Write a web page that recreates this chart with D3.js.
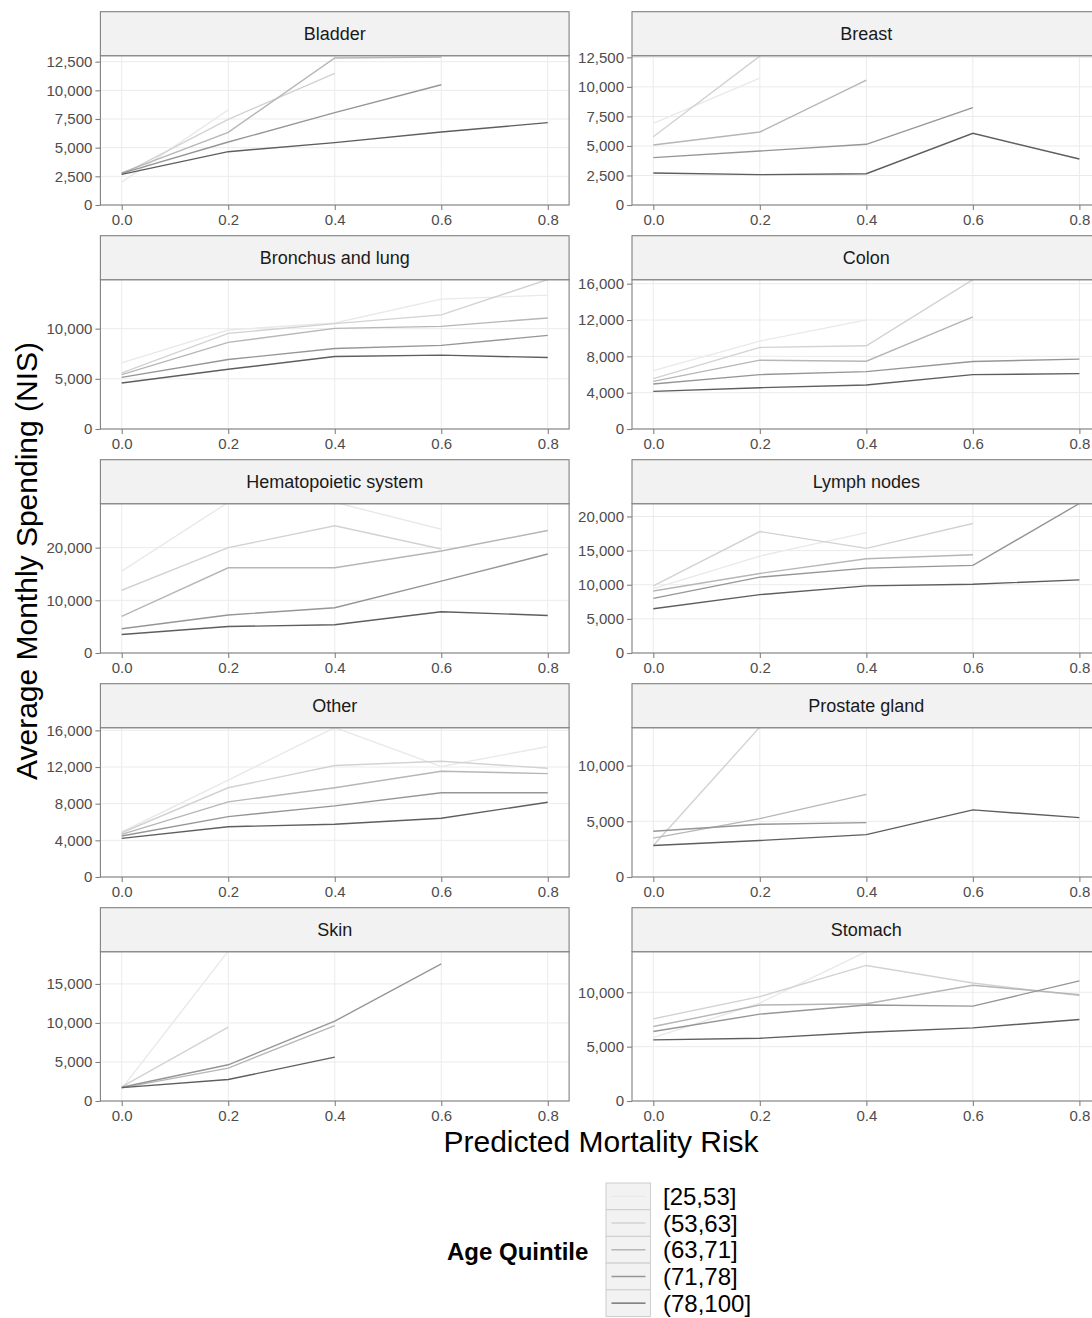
<!DOCTYPE html>
<html>
<head>
<meta charset="utf-8">
<script src="https://cdn.jsdelivr.net/npm/d3@7"></script>
<style>
  body { margin: 0; background: #fff; }
  text { font-family: "Liberation Sans", Arial, sans-serif; }
</style>
</head>
<body>
<script>
// data
var sites = ["Bladder", "Breast", "Bronchus and lung", "Colon", "Hematopoietic system",
    "Lymph nodes", "Other", "Prostate gland", "Skin", "Stomach"];
var quintiles = ["[25,53]", "(53,63]", "(63,71]", "(71,78]", "(78,100]"];
var greys = ["#e9e9e9", "#d2d2d2", "#b6b6b6", "#969696", "#5e5e5e"];
var risk = [0, 0.2, 0.4, 0.6, 0.8];

// one row per quintile, one value per risk level (null = no data)
var bladder = [
    [2000, 8300, null, null, null],
    [2650, 7470, 11480, null, null],
    [2800, 6340, 12820, 12900, null],
    [2760, 5490, 8050, 10490, null],
    [2670, 4650, 5440, 6370, 7180]];
var breast = [
    [6910, 10750, null, null, null],
    [5780, 12600, null, null, null],
    [5080, 6180, 10580, null, null],
    [4010, 4570, 5140, 8240, null],
    [2710, 2570, 2650, 6070, 3890]];
var lung = [
    [6590, 9870, 10570, 12940, 13340],
    [5590, 9530, 10500, 11370, 14900],
    [5420, 8630, 10030, 10230, 11070],
    [5150, 6920, 8030, 8330, 9330],
    [4580, 5950, 7220, 7360, 7120]];
var colon = [
    [6430, 9680, 12010, null, null],
    [5540, 8980, 9160, 16450, null],
    [5250, 7580, 7460, 12340, null],
    [4950, 5990, 6320, 7430, 7690],
    [4140, 4550, 4840, 5990, 6100]];
var hema = [
    [15540, 28600, 28600, 23500, null],
    [11910, 20000, 24140, 19740, null],
    [6940, 16180, 16180, 19360, 23250],
    [4590, 7200, 8600, 13630, 18790],
    [3500, 5030, 5350, 7830, 7130]];
var lymph = [
    [9440, 14200, 17640, null, null],
    [9830, 17790, 15330, 18970, null],
    [9090, 11650, 13810, 14400, null],
    [8010, 11110, 12430, 12830, 21900],
    [6490, 8550, 9830, 10070, 10710]];
var other = [
    [4910, 10580, 16300, 12050, 14240],
    [4830, 9740, 12160, 12630, 11860],
    [4650, 8200, 9740, 11530, 11280],
    [4470, 6590, 7760, 9190, 9190],
    [4210, 5490, 5750, 6410, 8160]];
var prostate = [
    [null, null, null, null, null],
    [2830, 13450, null, null, null],
    [3490, 5240, 7410, null, null],
    [4100, 4730, 4880, null, null],
    [2830, 3280, 3800, 6020, 5330]];
var skin = [
    [1590, 19200, null, null, null],
    [1810, 9460, null, null, null],
    [1680, 4210, 9670, null, null],
    [1760, 4640, 10230, 17580, null],
    [1720, 2750, 5630, null, null]];
var stomach = [
    [5830, 9010, 13750, null, null],
    [7560, 9600, 12470, 10860, 9690],
    [6850, 8830, 8950, 10650, 9780],
    [6390, 7990, 8830, 8730, 11050],
    [5620, 5770, 6330, 6730, 7500]];

var siteValues = [bladder, breast, lung, colon, hema, lymph, other, prostate, skin, stomach];

// upper y limit of each panel and its tick labels
var yMax = [13020, 12640, 14880, 16440, 28340, 21870, 16290, 13400, 19130, 13735];
var yTicks = [
    [0, 2500, 5000, 7500, 10000, 12500],
    [0, 2500, 5000, 7500, 10000, 12500],
    [0, 5000, 10000],
    [0, 4000, 8000, 12000, 16000],
    [0, 10000, 20000],
    [0, 5000, 10000, 15000, 20000],
    [0, 4000, 8000, 12000, 16000],
    [0, 5000, 10000],
    [0, 5000, 10000, 15000],
    [0, 5000, 10000]];

var width = 1092;
var height = 1318;

var colLeft = [100.4, 632];
var panelW = 468.7;
var stripTop = 11.7;
var stripH = 44;
var plotH = 149.3;
var rowStep = 224;
var borderCol = "#808080";

var svg = d3.select("body").append("svg")
    .attr("width", width)
    .attr("height", height);

var xScale = d3.scaleLinear()
    .domain([-0.04, 0.84])
    .range([0, panelW]);

var lineGen = d3.line()
    .defined(function(d){ return d.v != null; })
    .x(function(d){ return xScale(d.x); });

sites.forEach(function(site, i){
    var col = i % 2;
    var row = Math.floor(i / 2);
    var top = stripTop + row * rowStep + stripH;

    var g = svg.append("g")
        .attr("transform", "translate(" + colLeft[col] + "," + top + ")");

    var yScale = d3.scaleLinear()
        .domain([0, yMax[i]])
        .range([plotH, 0]);

    // grid
    g.selectAll(".hgrid")
        .data(yTicks[i])
        .enter().append("line")
        .attr("x1", 0).attr("x2", panelW)
        .attr("y1", function(d){ return yScale(d); })
        .attr("y2", function(d){ return yScale(d); })
        .attr("stroke", "#ebebeb")
        .attr("stroke-width", 1);

    g.selectAll(".vgrid")
        .data(risk)
        .enter().append("line")
        .attr("x1", function(d){ return xScale(d); })
        .attr("x2", function(d){ return xScale(d); })
        .attr("y1", 0).attr("y2", plotH)
        .attr("stroke", "#ebebeb")
        .attr("stroke-width", 1);

    g.append("clipPath")
        .attr("id", "clip" + i)
        .append("rect")
        .attr("width", panelW)
        .attr("height", plotH);

    lineGen.y(function(d){ return yScale(d.v); });

    g.append("g")
        .attr("clip-path", "url(#clip" + i + ")")
        .selectAll("path")
        .data(siteValues[i])
        .enter().append("path")
        .attr("d", function(vals){
            return lineGen(vals.map(function(v, k){ return {x: risk[k], v: v}; }));
        })
        .attr("fill", "none")
        .attr("stroke", function(d, k){ return greys[k]; })
        .attr("stroke-width", 1.4);

    // panel border
    g.append("rect")
        .attr("width", panelW)
        .attr("height", plotH)
        .attr("fill", "none")
        .attr("stroke", borderCol)
        .attr("stroke-width", 1.1);

    // strip
    g.append("rect")
        .attr("y", -stripH)
        .attr("width", panelW)
        .attr("height", stripH)
        .attr("fill", "#f2f2f2")
        .attr("stroke", borderCol)
        .attr("stroke-width", 1.1);

    g.append("text")
        .text(site)
        .attr("x", panelW / 2)
        .attr("y", -stripH / 2 + 6.5)
        .attr("text-anchor", "middle")
        .attr("font-size", 18)
        .attr("fill", "#1a1a1a");

    // axes
    var yAxisCall = d3.axisLeft(yScale)
        .tickValues(yTicks[i])
        .tickFormat(d3.format(","))
        .tickSize(5)
        .tickPadding(3);

    var yAx = g.append("g").call(yAxisCall);

    var xAxisCall = d3.axisBottom(xScale)
        .tickValues(risk)
        .tickFormat(d3.format(".1f"))
        .tickSize(5)
        .tickPadding(4);

    var xAx = g.append("g")
        .attr("transform", "translate(0," + plotH + ")")
        .call(xAxisCall);

    [yAx, xAx].forEach(function(ax){
        ax.select(".domain").remove();
        ax.selectAll(".tick line").attr("stroke", borderCol).attr("stroke-width", 1.1);
        ax.selectAll(".tick text")
            .attr("fill", "#4d4d4d")
            .attr("font-size", 15)
            .attr("font-family", "Liberation Sans, Arial, sans-serif");
    });
});

// axis titles
svg.append("text")
    .text("Predicted Mortality Risk")
    .attr("x", 601)
    .attr("y", 1152)
    .attr("text-anchor", "middle")
    .attr("font-size", 30)
    .attr("fill", "#000");

svg.append("text")
    .text("Average Monthly Spending (NIS)")
    .attr("transform", "translate(37,561) rotate(-90)")
    .attr("text-anchor", "middle")
    .attr("font-size", 30)
    .attr("fill", "#000");

// legend
var legend = svg.append("g");

legend.append("text")
    .text("Age Quintile")
    .attr("x", 447)
    .attr("y", 1259.5)
    .attr("font-size", 24)
    .attr("font-weight", "bold")
    .attr("fill", "#000");

var keyH = 26.7;
var keyTop = 1183;

var keys = legend.selectAll(".key")
    .data(quintiles)
    .enter().append("g")
    .attr("transform", function(d, k){ return "translate(606," + (keyTop + k * keyH) + ")"; });

keys.append("rect")
    .attr("width", 44.5)
    .attr("height", keyH)
    .attr("fill", "#f2f2f2")
    .attr("stroke", "#d0d0d0")
    .attr("stroke-width", 1.1);

keys.append("line")
    .attr("x1", 5.5).attr("x2", 39.5)
    .attr("y1", keyH / 2).attr("y2", keyH / 2)
    .attr("stroke", function(d, k){ return greys[k]; })
    .attr("stroke-width", 1.4);

keys.append("text")
    .text(function(d){ return d; })
    .attr("x", 57)
    .attr("y", keyH / 2 + 8.5)
    .attr("font-size", 24)
    .attr("fill", "#000");
</script>
</body>
</html>
